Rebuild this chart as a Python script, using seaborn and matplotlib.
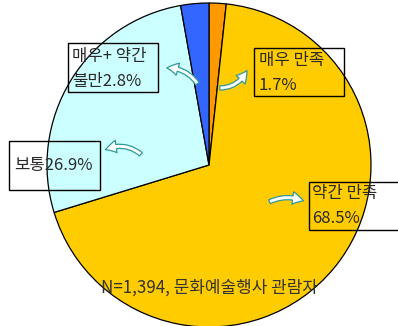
import matplotlib
matplotlib.use("Agg")
import matplotlib.pyplot as plt
import seaborn as sns
from matplotlib.patches import Rectangle, FancyArrowPatch

categories = ["매우 만족", "약간 만족", "보통", "매우+ 약간 불만"]
values = [1.7, 68.5, 26.9, 2.8]
label_texts = ["매우 만족\n1.7%", "약간 만족\n68.5%", "보통26.9%", "매우+ 약간\n불만2.8%"]
footnote = "N=1,394, 문화예술행사 관람자"

sns.set_theme(style="white")
plt.rcParams['font.family'] = ['Noto Sans CJK KR', 'DejaVu Sans']

colors = sns.color_palette(["#FF9900", "#FFCC00", "#CCFFFF", "#3366FF"])

W, H = 398, 326
fig = plt.figure(figsize=(W / 100, H / 100), dpi=100)
fig.patch.set_facecolor("white")
ax = fig.add_axes([0, 0, 1, 1])

cx, cy, R = 209, 165, 162
ax.pie(values, colors=colors, startangle=90, counterclock=False, radius=1,
       wedgeprops=dict(edgecolor="black", linewidth=0.9))
ax.set_aspect("auto")
ax.set_xlim(-cx / R, (W - cx) / R)
ax.set_ylim(-(H - cy) / R, cy / R)
ax.axis("off")


def fx(px):
    return px / W


def fy(py):
    return 1 - py / H


# label boxes: (x0, y0, x1, y1) in pixels from top-left, text anchor
boxes = [
    ((254, 48, 344, 96), (259, 73)),
    ((309, 182, 420, 230), (312, 206)),
    ((9, 141, 100, 190), (14, 166)),
    ((68, 43, 158, 92), (72, 69)),
]

for txt, ((x0, y0, x1, y1), (tx, ty)) in zip(label_texts, boxes):
    rect = Rectangle((fx(x0), fy(y1)), fx(x1) - fx(x0), fy(y0) - fy(y1),
                     transform=fig.transFigure, fill=False, edgecolor="black",
                     linewidth=1.0, clip_on=False)
    fig.add_artist(rect)
    fig.text(fx(tx), fy(ty), txt, ha="left", va="center", fontsize=12,
             color="#2a2a2a", linespacing=1.6)

# curved arrows: tail -> head (pixels)
arrows = [
    ((217, 88), (248, 68), 0.35),
    ((267, 203), (306, 202), -0.25),
    ((143, 156), (103, 151), 0.35),
    ((199, 86), (164, 68), 0.3),
]
for (t, h, rad) in arrows:
    arr = FancyArrowPatch((fx(t[0]), fy(t[1])), (fx(h[0]), fy(h[1])),
                          transform=fig.transFigure,
                          arrowstyle="simple,head_width=9,head_length=8,tail_width=3",
                          connectionstyle=f"arc3,rad={rad}",
                          facecolor="white", edgecolor="#2E9A9A", linewidth=0.9,
                          mutation_scale=1)
    fig.add_artist(arr)

fig.text(fx(210), fy(288), footnote, ha="center", va="center", fontsize=12.2,
         color="#333333")

fig.savefig("out.png", dpi=100, facecolor="white")
